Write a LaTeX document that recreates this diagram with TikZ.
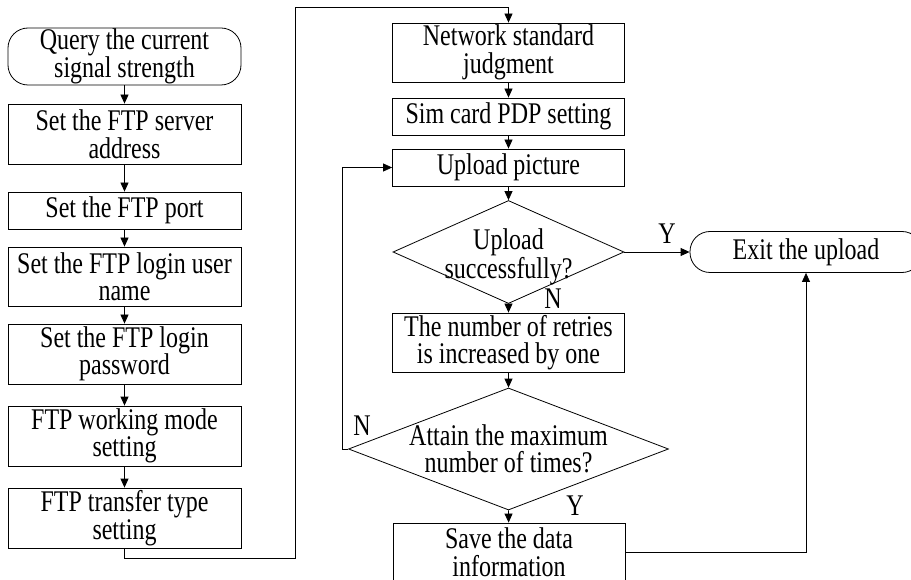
\documentclass[tikz,border=0pt]{standalone}
\usepackage{fontspec}
\setmainfont{Liberation Serif}[FakeStretch=0.8]
\usetikzlibrary{arrows.meta,shapes.geometric,calc}
\begin{document}
\begin{tikzpicture}[x=1pt,y=-1pt,
  every node/.style={font=\fontsize{30}{27.5}\selectfont, align=center},
  box/.style={draw, line width=0.8pt, rectangle, inner sep=0pt},
  lbox/.style={box, minimum width=233pt},
  mbox/.style={box, minimum width=232pt},
  term/.style={draw, line width=0.8pt, rectangle, rounded corners=20pt, inner sep=0pt},
  dia/.style={draw, line width=0.8pt, diamond, inner sep=0pt},
  lbl/.style={inner sep=0pt},
  flow/.style={line width=0.8pt, -{Triangle[length=9pt,width=8pt]}}]
\useasboundingbox (0,0) rectangle (911,580);
% left column
\node[term, minimum width=233pt, minimum height=57pt] (q) at (124.5,56.5) {Query the current\\signal strength};
\node[lbox, minimum height=60pt] (a1) at (124.5,134) {Set the FTP server\\address};
\node[lbox, minimum height=37pt] (a2) at (124.5,210.5) {Set the FTP port};
\node[lbox, minimum height=59pt] (a3) at (124.5,276.5) {Set the FTP login user\\name};
\node[lbox, minimum height=60pt] (a4) at (124.5,354) {Set the FTP login\\password};
\node[lbox, minimum height=60pt] (a5) at (124.5,436) {FTP working mode\\setting};
\node[lbox, minimum height=60pt] (a6) at (124.5,518) {FTP transfer type\\setting};
% middle column
\node[mbox, minimum height=59pt] (b1) at (508.5,52.5) {Network standard\\judgment};
\node[mbox, minimum height=37pt] (b2) at (508.5,116.5) {Sim card PDP setting};
\node[mbox, minimum height=37pt] (b3) at (508.5,167.5) {Upload picture};
\node[dia, minimum width=231pt, minimum height=103pt] (d1) at (508.5,252) {};
\node[lbl] (d1t) at (508.5,257) {Upload\\successfully?};
\node[mbox, minimum height=59pt] (r) at (508.5,342.5) {The number of retries\\is increased by one};
\node[dia, minimum width=320pt, minimum height=122pt] (d2) at (508.5,449) {};
\node[lbl] (d2t) at (508.5,449) {Attain the maximum\\number of times?};
\node[mbox, minimum height=58pt] (s) at (509,552) {Save the data\\information};
% exit
\node[term, minimum width=232pt, minimum height=41pt] (e) at (806,252) {Exit the upload};
% labels
\node[lbl] (ly1) at (667,234) {Y};
\node[lbl] (ln1) at (553,299) {N};
\node[lbl] (ln2) at (362,426) {N};
\node[lbl] (ly2) at (575,506) {Y};
% connectors
\coordinate (c1) at (295,558);
\coordinate (c2) at (295,7);
\coordinate (lp) at (342,449);
\coordinate (sr) at (806,552);
\draw[flow] (q) -- (a1);
\draw[flow] (a1) -- (a2);
\draw[flow] (a2) -- (a3);
\draw[flow] (a3) -- (a4);
\draw[flow] (a4) -- (a5);
\draw[flow] (a5) -- (a6);
\draw[flow] (a6.south) |- (c1) -- (c2) -| (b1.north);
\draw[flow] (b1) -- (b2);
\draw[flow] (b2) -- (b3);
\draw[flow] (b3) -- (d1.north);
\draw[flow] (d1.south) -- (r);
\draw[flow] (r) -- (d2.north);
\draw[flow] (d2.south) -- (s);
\draw[flow] (d1.east) -- (e.west);
\draw[flow] (d2.west) -- (lp) |- (b3.west);
\draw[flow] (s.east |- sr) -- (sr) -- (e.south);
\end{tikzpicture}
\end{document}
